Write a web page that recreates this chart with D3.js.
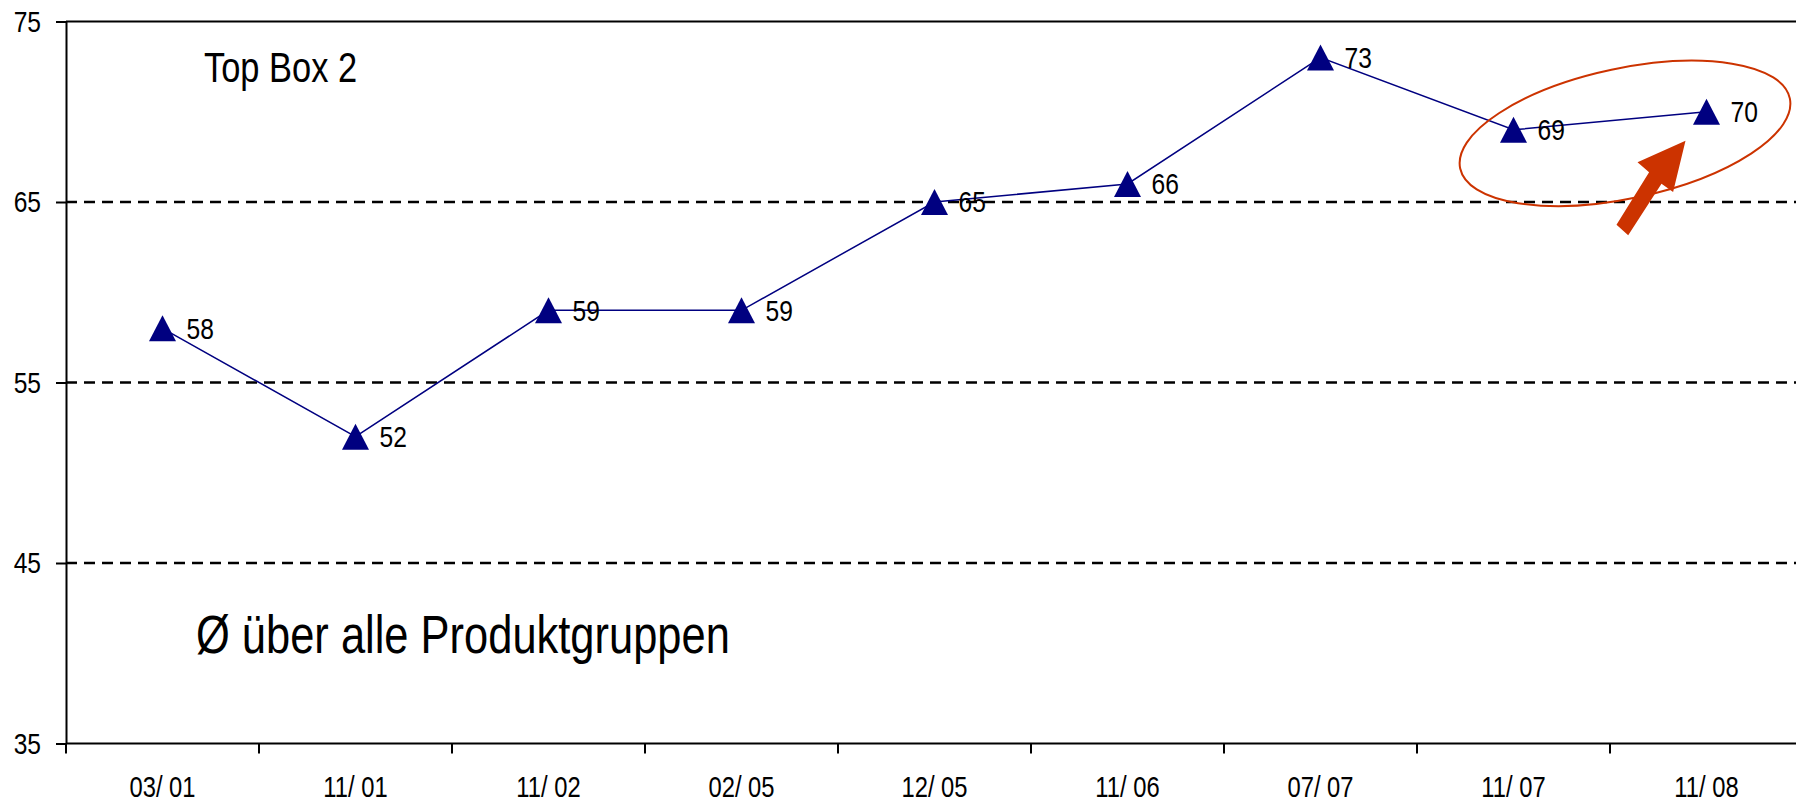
<!DOCTYPE html>
<html>
<head>
<meta charset="utf-8">
<script src="https://cdn.jsdelivr.net/npm/d3@7"></script>
<style>
  body { margin: 0; background: #fff; }
  svg text { font-family: "Liberation Sans Narrow", "Arial Narrow", "Liberation Sans", Arial, sans-serif; fill: #000; }
</style>
</head>
<body>
<div id="chart"></div>
<script>
const categories = ["03/ 01", "11/ 01", "11/ 02", "02/ 05", "12/ 05", "11/ 06", "07/ 07", "11/ 07", "11/ 08"];
const values = [58, 52, 59, 59, 65, 66, 73, 69, 70];
const yTicks = [35, 45, 55, 65, 75];
const gridValues = [45, 55, 65];

const width = 1796;
const height = 804;
const margin = { top: 21.5, left: 66, bottom: 60.5 };
const bandWidth = 193;
const squeeze = 0.82; // no narrow font installed, so squeeze the regular one

const svg = d3.select("#chart")
    .append("svg")
    .attr("width", width)
    .attr("height", height);

const x = d3.scaleBand()
    .domain(categories)
    .range([margin.left, margin.left + bandWidth * categories.length]);

const y = d3.scaleLinear()
    .domain([35, 75])
    .range([height - margin.bottom, margin.top]);

// squeeze text horizontally around its own x position
function narrow(sel) {
    sel.each(function () {
        const t = d3.select(this);
        const x0 = +t.attr("x") || 0;
        t.attr("x", x0 / squeeze).attr("transform", `scale(${squeeze},1)`);
    });
}

// dashed gridlines
svg.selectAll(".grid")
    .data(gridValues)
    .join("line")
    .attr("class", "grid")
    .attr("x1", margin.left)
    .attr("x2", width)
    .attr("y1", d => y(d))
    .attr("y2", d => y(d))
    .attr("stroke", "#000")
    .attr("stroke-width", 2.4)
    .attr("stroke-dasharray", "11,7");

// top border of plot
svg.append("line")
    .attr("x1", margin.left)
    .attr("x2", width)
    .attr("y1", y(75))
    .attr("y2", y(75))
    .attr("stroke", "#000")
    .attr("stroke-width", 2);

// y axis
const yAxis = svg.append("g")
    .attr("transform", `translate(${margin.left},0)`)
    .call(d3.axisLeft(y).tickValues(yTicks).tickSize(10).tickPadding(15).tickSizeOuter(0));
yAxis.select(".domain").attr("stroke-width", 2);
yAxis.selectAll(".tick line").attr("stroke-width", 2);
yAxis.selectAll("text").style("font-size", "30px").call(narrow);

// x axis: labels centred in bands, ticks on band edges
const xAxis = svg.append("g")
    .attr("transform", `translate(0,${y(35)})`)
    .call(d3.axisBottom(x).tickSize(0).tickPadding(33).tickSizeOuter(0));
xAxis.select(".domain").attr("d", `M${margin.left},0H${width}`).attr("stroke-width", 2);
xAxis.selectAll("text").style("font-size", "29px").call(narrow);
xAxis.selectAll(".edge")
    .data(categories)
    .join("line")
    .attr("class", "edge")
    .attr("x1", d => x(d))
    .attr("x2", d => x(d))
    .attr("y1", 0)
    .attr("y2", 10)
    .attr("stroke", "#000")
    .attr("stroke-width", 2);

const cx = (d, i) => x(categories[i]) + x.bandwidth() / 2;

// series line
const line = d3.line()
    .x((d, i) => cx(d, i))
    .y(d => y(d));

svg.append("path")
    .datum(values)
    .attr("fill", "none")
    .attr("stroke", "#000080")
    .attr("stroke-width", 1.5)
    .attr("d", line);

// triangle markers
const tri = {
    draw(context) {
        context.moveTo(0, -13);
        context.lineTo(13.5, 13);
        context.lineTo(-13.5, 13);
        context.closePath();
    }
};

svg.selectAll(".marker")
    .data(values)
    .join("path")
    .attr("class", "marker")
    .attr("transform", (d, i) => `translate(${cx(d, i)},${y(d)})`)
    .attr("fill", "#000080")
    .attr("d", d3.symbol(tri));

svg.selectAll(".val")
    .data(values)
    .join("text")
    .attr("class", "val")
    .attr("x", (d, i) => cx(d, i) + 24)
    .attr("y", d => y(d))
    .attr("dy", "0.35em")
    .style("font-size", "30px")
    .text(d => d)
    .call(narrow);

// titles
svg.append("text")
    .attr("x", 204)
    .attr("y", 82)
    .style("font-size", "42px")
    .text("Top Box 2")
    .call(narrow);

svg.append("text")
    .attr("x", 196)
    .attr("y", 653)
    .style("font-size", "53px")
    .text("Ø über alle Produktgruppen")
    .call(narrow);

// highlight of the last two waves
const hx = (cx(0, 7) + cx(0, 8)) / 2 + 15;
const hy = y(68.8);
svg.append("ellipse")
    .attr("transform", `translate(${hx},${hy}) rotate(-12)`)
    .attr("rx", 168.5)
    .attr("ry", 65)
    .attr("fill", "none")
    .attr("stroke", "#cc3300")
    .attr("stroke-width", 2);

// arrow, relative to the tip
const tipX = cx(0, 8) - 21;
const tipY = y(68.4);
const arrow = [[0, 0], [-48, 21.6], [-36.4, 31.6], [-69, 84], [-57.3, 94.6], [-24, 43], [-12.4, 51.3]];
svg.append("path")
    .attr("transform", `translate(${tipX},${tipY})`)
    .attr("fill", "#cc3300")
    .attr("d", d3.line()(arrow) + "Z");
</script>
</body>
</html>
